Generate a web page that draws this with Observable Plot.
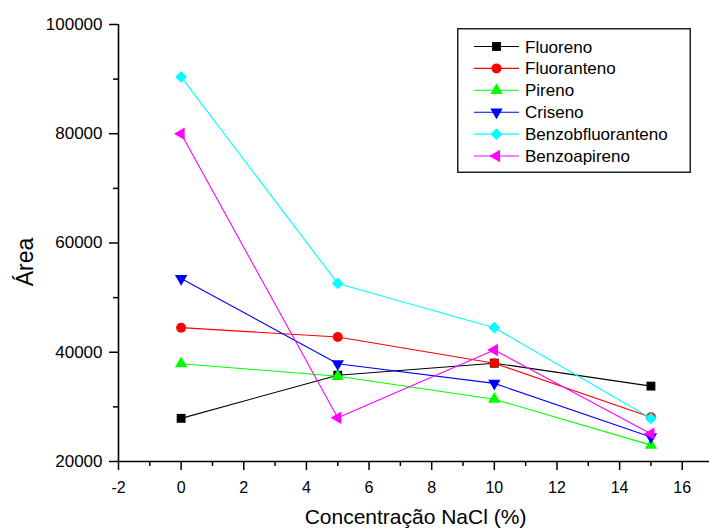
<!DOCTYPE html>
<html><head><meta charset="utf-8">
<script src="https://cdn.jsdelivr.net/npm/d3@7"></script>
<script src="https://cdn.jsdelivr.net/npm/@observablehq/plot@0.6"></script>
<style>
body{margin:0;background:#fff;font-family:"Liberation Sans",Arial,sans-serif}
#chart{position:relative;width:709px;height:530px;overflow:hidden}
#legend{position:absolute;left:457px;top:28px}
</style></head><body><div id="chart"></div>
<script>
const concentrations = [0, 5, 10, 15];
const seriesNames = ["Fluoreno", "Fluoranteno", "Pireno", "Criseno", "Benzobfluoranteno", "Benzoapireno"];
const fluoreno = [27900, 35800, 38000, 33800];
const fluoranteno = [44500, 42800, 38000, 28100];
const pireno = [37900, 35600, 31400, 23000];
const criseno = [53500, 37900, 34300, 24500];
const benzobfluoranteno = [90400, 52600, 44500, 27900];
const benzoapireno = [80000, 28000, 40400, 25100];
const seriesColors = ["#000000", "#ff0000", "#00ff00", "#0000ff", "#00ffff", "#ff00ff"];
const xTicks = [-2, 0, 2, 4, 6, 8, 10, 12, 14, 16];
const xMinorTicks = [-1, 1, 3, 5, 7, 9, 11, 13, 15];
const yTicks = [20000, 40000, 60000, 80000, 100000];
const yMinorTicks = [30000, 50000, 70000, 90000];

const seriesValues = [fluoreno, fluoranteno, pireno, criseno, benzobfluoranteno, benzoapireno];

const sqrt3 = Math.sqrt(3);
const triangleDown = {draw(ctx, size) {
  const y = -Math.sqrt(size / (sqrt3 * 3));
  ctx.moveTo(0, -y * 2); ctx.lineTo(-sqrt3 * y, y); ctx.lineTo(sqrt3 * y, y); ctx.closePath();
}};
const triangleLeft = {draw(ctx, size) {
  const y = -Math.sqrt(size / (sqrt3 * 3));
  ctx.moveTo(y * 2, 0); ctx.lineTo(-y, sqrt3 * y); ctx.lineTo(-y, -sqrt3 * y); ctx.closePath();
}};
const symbols = [d3.symbolSquare, d3.symbolCircle, d3.symbolTriangle, triangleDown, d3.symbolDiamond2, triangleLeft];
const radii = [5, 5, 4.6, 4.6, 5.3, 4.6];

const rows = seriesNames.flatMap((name, i) =>
  seriesValues[i].map((v, j) => ({series: name, x: concentrations[j], y: v})));

const seriesMarks = seriesNames.flatMap((name, i) => {
  const d = rows.filter(r => r.series === name);
  return [
    Plot.line(d, {x: "x", y: "y", stroke: seriesColors[i], strokeWidth: 1.1}),
    Plot.dot(d, {x: "x", y: "y", fill: seriesColors[i], stroke: "none", symbol: symbols[i], r: radii[i]})
  ];
});

const chart = Plot.plot({
  width: 709,
  height: 530,
  marginLeft: 118,
  marginRight: 0,
  marginTop: 24,
  marginBottom: 69,
  style: {fontFamily: "'Liberation Sans', Arial, sans-serif", color: "black", background: "white", overflow: "visible"},
  x: {domain: [-2, 16.87]},
  y: {domain: [20000, 100000]},
  marks: [
    ...seriesMarks,
    Plot.ruleX([-2], {stroke: "black", strokeWidth: 1.6}),
    Plot.ruleY([20000], {stroke: "black", strokeWidth: 1.6}),
    Plot.axisX({ticks: xTicks, tickSize: 9, tickPadding: 11, fontSize: 16, label: null, strokeWidth: 1.5, tickFormat: d => String(d)}),
    Plot.axisX({ticks: xMinorTicks, tickSize: 5, text: null, label: null, strokeWidth: 1.5}),
    Plot.axisY({ticks: yTicks, tickSize: 9, tickPadding: 7, fontSize: 17, label: null, strokeWidth: 1.5, tickFormat: d => String(d)}),
    Plot.axisY({ticks: yMinorTicks, tickSize: 5, text: null, label: null, strokeWidth: 1.5}),
    Plot.text(["Área"], {frameAnchor: "left", rotate: -90, dx: -86, dy: 19, lineAnchor: "bottom", textAnchor: "middle", fontSize: 23, fill: "black"}),
    Plot.text(["Concentração NaCl (%)"], {frameAnchor: "bottom", dx: 1.5, dy: 62, lineAnchor: "bottom", textAnchor: "middle", fontSize: 21, fill: "black"})
  ]
});
const container = document.getElementById("chart");
container.appendChild(chart);

// legend
const lw = 234, lh = 145;
const legend = d3.select(container).append("svg").attr("id", "legend")
  .attr("width", lw).attr("height", lh);
legend.append("rect").attr("x", 0.75).attr("y", 0.75).attr("width", lw - 1.5).attr("height", lh - 1.5)
  .attr("fill", "white").attr("stroke", "#222").attr("stroke-width", 1.5);
seriesNames.forEach((name, i) => {
  const y = 18.5 + i * 21.9;
  const g = legend.append("g");
  g.append("line").attr("x1", 17).attr("x2", 62).attr("y1", y).attr("y2", y)
    .attr("stroke", seriesColors[i]).attr("stroke-width", 1.1);
  g.append("path").attr("transform", `translate(39.5,${y})`)
    .attr("d", d3.symbol(symbols[i], radii[i] * radii[i] * Math.PI)())
    .attr("fill", seriesColors[i]);
  g.append("text").attr("x", 68).attr("y", y + 6).attr("font-size", 17)
    .attr("font-family", "'Liberation Sans', Arial, sans-serif").attr("fill", "black").text(name);
});
</script></body></html>
